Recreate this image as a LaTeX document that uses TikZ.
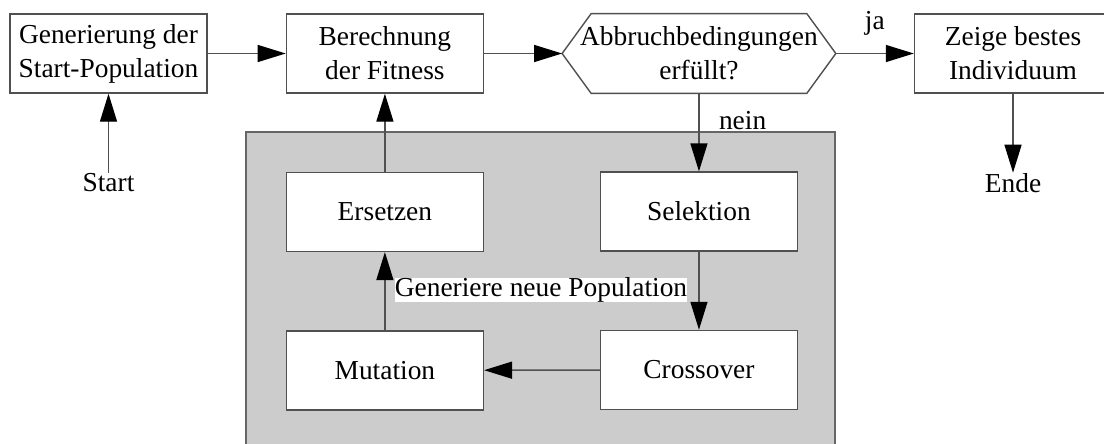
\documentclass[tikz,border=0pt]{standalone}
\usepackage{fontspec}
\setmainfont{Liberation Serif}
\usetikzlibrary{arrows.meta, positioning, backgrounds}
\definecolor{panelgray}{RGB}{204,204,204}
\definecolor{linegray}{RGB}{80,80,80}

\begin{document}
\begin{tikzpicture}[
  box/.style={rectangle, draw=linegray, fill=white, line width=0.8pt, minimum width=3.94cm,
              minimum height=1.58cm, align=center, font=\fontsize{15.6}{19.4}\selectfont},
  cond/.style={rectangle, minimum width=5.46cm, minimum height=1.58cm, inner xsep=0pt,
               align=center, font=\fontsize{15.6}{19.4}\selectfont},
  hexline/.style={draw=linegray, line width=0.8pt, line join=miter},
  term/.style={inner sep=0pt, font=\fontsize{15.6}{19.4}\selectfont},
  arr/.style={-{Triangle[length=0.56cm, width=0.34cm, black]}, line width=0.8pt, draw=linegray},
  node distance=1.56cm
]
  \useasboundingbox (0,0) rectangle (22.08,-8.86);

  \node[box] (init) at (2.17,-1.07) {Generierung der\\Start-Population};
  \node[box, right=of init] (fit)  {Berechnung\\der Fitness};
  \node[cond, right=of fit] (stop) {Abbruchbedingungen\\erfüllt?};
  \draw[hexline] (stop.west) -- ([xshift=0.58cm]stop.north west) -- ([xshift=-0.58cm]stop.north east)
    -- (stop.east) -- ([xshift=-0.58cm]stop.south east) -- ([xshift=0.58cm]stop.south west) -- cycle;
  \node[box, right=of stop] (best) {Zeige bestes\\Individuum};
  \node[term, below=1.58cm of init] (start) {Start};
  \node[term, below=1.58cm of best] (ende)  {Ende};

  % Generiere neue Population
  \node[box, below=of fit]  (repl)  {Ersetzen};
  \node[box, below=of stop] (sel)   {Selektion};
  \node[box, below=of repl] (mut)   {Mutation};
  \node[box, below=of sel]  (cross) {Crossover};
  \node[term, fill=white] (gen) at (10.82,-5.80) {Generiere neue Population};
  \begin{scope}[on background layer]
    \draw[fill=panelgray, draw=black!60, line width=1pt] (4.92,-2.64) rectangle (16.70,-9.20);
  \end{scope}

  \draw[arr] (start) -- (init);
  \draw[arr] (init) -- (fit);
  \draw[arr] (fit) -- (stop.west);
  \draw[arr] (stop.east) -- node[term, above=10pt]{ja} (best);
  \draw[arr] (best) -- (ende);
  \draw[arr] (stop) -- node[term, pos=0.35, right=11pt]{nein} (sel);
  \draw[arr] (sel) -- (cross);
  \draw[arr] (cross) -- (mut);
  \draw[arr] (mut) -- (repl);
  \draw[arr] (repl) -- (fit);
\end{tikzpicture}
\end{document}
